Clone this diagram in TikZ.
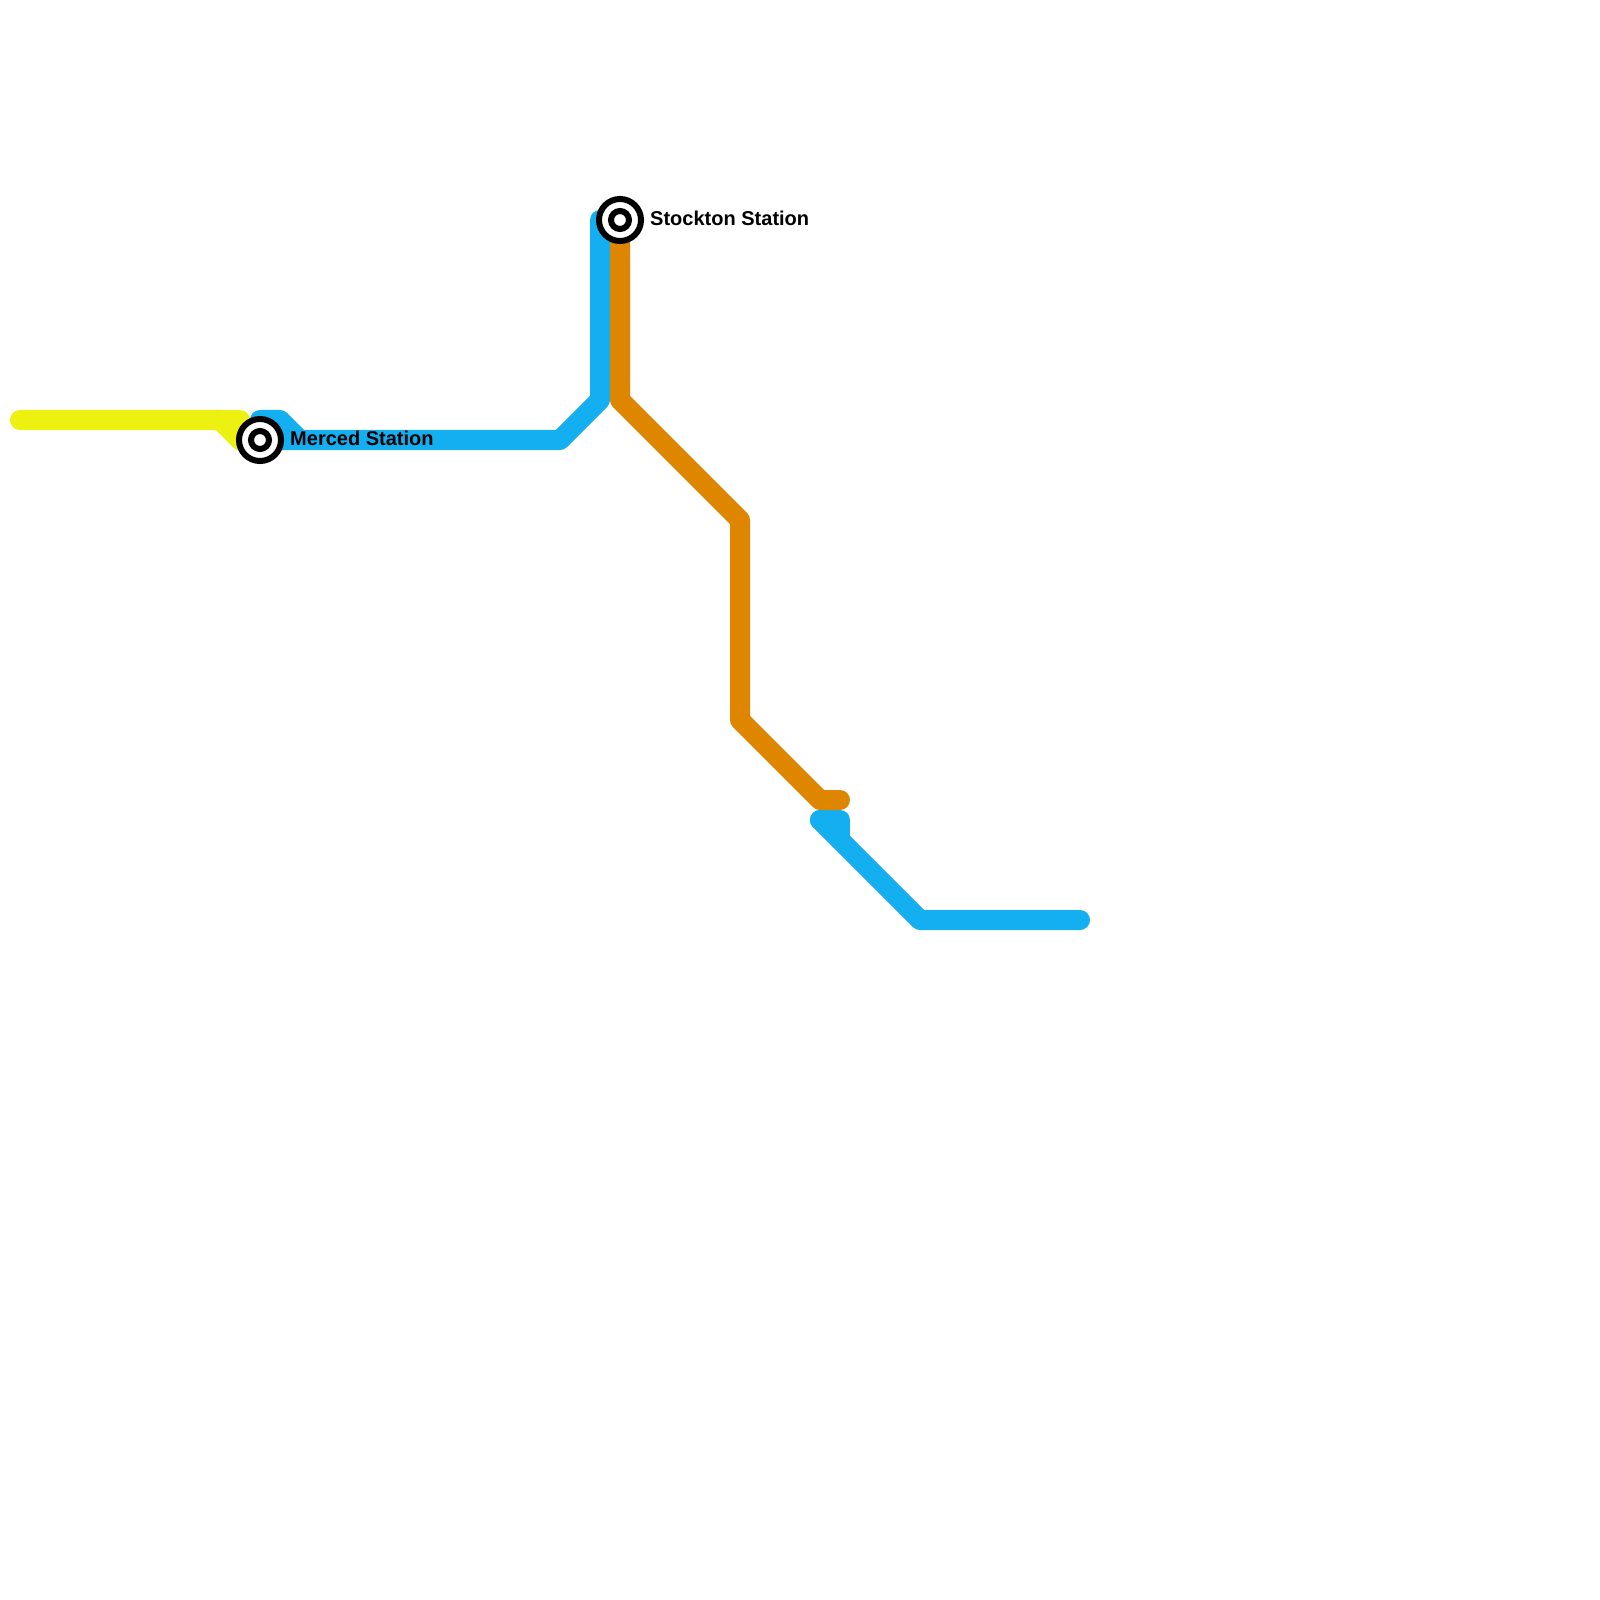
\documentclass[tikz,border=0pt]{standalone}
\usepackage{fontspec}
\usepackage{xcolor}
\setmainfont{Liberation Sans}
\usetikzlibrary{positioning}
\definecolor{lineblue}{HTML}{13AFF0}
\definecolor{lineyellow}{HTML}{ECF111}
\definecolor{lineorange}{HTML}{DF8600}

\begin{document}
\begin{tikzpicture}[x=0.01cm,y=-0.01cm,
  railline/.style={line width=0.2cm,line cap=round,line join=round},
  stationring/.style={draw=black,fill=white,circle,inner sep=0pt,minimum size=0.42cm,line width=0.06cm},
  stationcore/.style={draw=black,fill=white,circle,inner sep=0pt,minimum size=0.18cm,line width=0.06cm},
  stationlabel/.style={font=\bfseries\fontsize{5.69pt}{7pt}\selectfont,inner sep=0pt,anchor=west,yshift=0.02cm}]
\useasboundingbox (0,0) rectangle (1600,1600);

\coordinate (west) at (20,420);
\coordinate (yellowbend) at (220,420);
\coordinate (yellowstub) at (240,420);
\coordinate (yellowjoin) at (240,440);
\coordinate (mercedspur) at (260,420);
\coordinate (spurbend) at (280,420);
\coordinate (spurjoin) at (300,440);
\coordinate (mercedpos) at (260,440);
\coordinate (bluebend) at (560,440);
\coordinate (bluenorth) at (600,400);
\coordinate (bluetop) at (600,220);
\coordinate (stocktonpos) at (620,220);
\coordinate (orangenorth) at (620,400);
\coordinate (orangeupper) at (740,520);
\coordinate (orangelower) at (740,720);
\coordinate (orangebend) at (820,800);
\coordinate (orangeend) at (840,800);
\coordinate (bluestub) at (820,820);
\coordinate (stubbend) at (840,820);
\coordinate (stubjoin) at (840,840);
\coordinate (blueeast) at (920,920);
\coordinate (blueend) at (1080,920);

% lines
\draw[railline,lineblue] (bluetop) -- (bluenorth) -- (bluebend) -- (mercedpos);
\draw[railline,lineblue] (mercedspur) -- (spurbend) -- (spurjoin);
\draw[railline,lineblue] (bluestub) -- (blueeast) -- (blueend);
\draw[railline,lineblue] (bluestub) -- (stubbend) -- (stubjoin);
\draw[railline,lineyellow] (west) -- (yellowbend) -- (yellowjoin);
\draw[railline,lineyellow] (yellowbend) -- (yellowstub) -- (yellowjoin);
\draw[railline,lineorange] (stocktonpos) -- (orangenorth) -- (orangeupper) -- (orangelower) -- (orangebend) -- (orangeend);

% stations
\node[stationring] (merced) at (mercedpos) {};
\node[stationcore] (mercedcore) at (merced) {};
\node[stationlabel,right=0.295cm of merced.center] (mercedlabel) {Merced Station};
\node[stationring] (stockton) at (stocktonpos) {};
\node[stationcore] (stocktoncore) at (stockton) {};
\node[stationlabel,right=0.295cm of stockton.center] (stocktonlabel) {Stockton Station};
\end{tikzpicture}
\end{document}
